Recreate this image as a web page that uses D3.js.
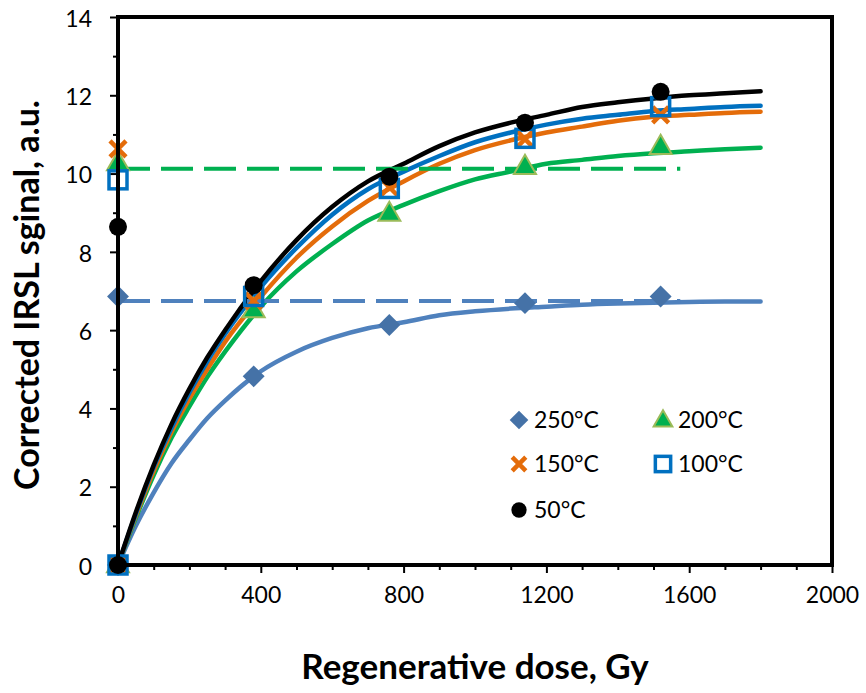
<!DOCTYPE html>
<html>
<head>
<meta charset="utf-8">
<script src="https://cdn.jsdelivr.net/npm/d3@7"></script>
<style>
  body { margin: 0; background: #fff; }
  svg { display: block; }
  text { font-family: Lato, "Open Sans", sans-serif; fill: #000; }
</style>
</head>
<body>
<svg id="chart" width="866" height="693"></svg>
<script>
// measured points (two points at dose 0: origin and natural signal)
const pointDose = [0, 0, 380, 760, 1140, 1520];
const pts250 = [0, 6.86, 4.82, 6.13, 6.69, 6.86];
const pts200 = [0, 10.27, 6.52, 8.98, 10.18, 10.69];
const pts150 = [0, 10.63, 6.75, 9.65, 10.88, 11.5];
const pts100 = [0, 9.84, 6.86, 9.62, 10.9, 11.71];
const pts50  = [0, 8.64, 7.15, 9.92, 11.3, 12.09];

// fitted growth curves
const curveDose = [0, 50, 100, 150, 200, 250, 300, 400, 500, 600, 700, 800, 900, 1000, 1100, 1200, 1300, 1400, 1500, 1600, 1700, 1800];
const fit250 = [0, 1.0, 1.85, 2.6, 3.2, 3.75, 4.2, 4.95, 5.45, 5.8, 6.05, 6.2, 6.38, 6.48, 6.55, 6.6, 6.65, 6.68, 6.7, 6.72, 6.73, 6.73];
const fit200 = [0, 1.2, 2.3, 3.25, 4.05, 4.8, 5.45, 6.6, 7.5, 8.2, 8.8, 9.2, 9.55, 9.85, 10.05, 10.25, 10.35, 10.45, 10.52, 10.57, 10.62, 10.66];
const fit150 = [0, 1.25, 2.4, 3.4, 4.25, 5.0, 5.7, 6.85, 7.85, 8.65, 9.3, 9.8, 10.25, 10.6, 10.85, 11.05, 11.2, 11.35, 11.45, 11.5, 11.55, 11.58];
const fit100 = [0, 1.3, 2.5, 3.5, 4.4, 5.2, 5.9, 7.1, 8.1, 8.95, 9.6, 10.05, 10.45, 10.8, 11.05, 11.25, 11.4, 11.5, 11.6, 11.65, 11.7, 11.73];
const fit50  = [0, 1.35, 2.55, 3.6, 4.5, 5.3, 6.0, 7.25, 8.3, 9.15, 9.8, 10.25, 10.7, 11.05, 11.3, 11.5, 11.7, 11.82, 11.92, 12.0, 12.05, 12.1];

// natural signal levels (dashed)
const natLevel250 = 6.745;
const natLevel200 = 10.12;
const natDoseRange = [0, 1575];

const xMajor = [0, 400, 800, 1200, 1600, 2000];
const xMinor = d3.range(100, 2000, 100).filter(d => d % 400 !== 0);
const yMajor = [0, 2, 4, 6, 8, 10, 12, 14];
const yMinor = [1, 3, 5, 7, 9, 11, 13];

const series = [
  { name: '250°C', pts: pts250, fit: fit250, line: '#4f81bd', marker: 'diamond' },
  { name: '200°C', pts: pts200, fit: fit200, line: '#00b050', marker: 'triangle' },
  { name: '150°C', pts: pts150, fit: fit150, line: '#e46c0a', marker: 'x' },
  { name: '100°C', pts: pts100, fit: fit100, line: '#0070c0', marker: 'square' },
  { name: '50°C',  pts: pts50,  fit: fit50,  line: '#000000', marker: 'circle' }
];

const svg = d3.select('#chart');
const plotL = 118, plotR = 832, plotT = 17, plotB = 565;

const x = d3.scaleLinear().domain([0, 2000]).range([plotL, plotR]);
const y = d3.scaleLinear().domain([0, 14]).range([plotB, plotT]);

// axes
const gx = svg.append('g').attr('transform', `translate(0,${plotB})`)
  .call(d3.axisBottom(x).tickValues(xMajor).tickFormat(d3.format('d'))
    .tickSize(8).tickSizeOuter(0).tickPadding(14));
const gxm = svg.append('g').attr('transform', `translate(0,${plotB})`)
  .call(d3.axisBottom(x).tickValues(xMinor).tickSize(5).tickSizeOuter(0).tickFormat(''));
const gy = svg.append('g').attr('transform', `translate(${plotL},0)`)
  .call(d3.axisLeft(y).tickValues(yMajor).tickFormat(d3.format('d'))
    .tickSize(8).tickSizeOuter(0).tickPadding(18));
const gym = svg.append('g').attr('transform', `translate(${plotL},0)`)
  .call(d3.axisLeft(y).tickValues(yMinor).tickSize(5).tickSizeOuter(0).tickFormat(''));

[gx, gxm, gy, gym].forEach(g => {
  g.select('.domain').remove();
  g.selectAll('line').attr('stroke', '#000').attr('stroke-width', 2);
  g.selectAll('text').style('font-size', '23px').style('font-family', 'Lato, sans-serif');
});
gx.selectAll('text').attr('dy', '0.71em');
gy.selectAll('text').attr('dy', '0.4em');

// curves
const line = d3.line().x(d => x(d[0])).y(d => y(d[1])).curve(d3.curveMonotoneX);
series.forEach(s => {
  svg.append('path')
    .datum(curveDose.map((d, i) => [d, s.fit[i]]))
    .attr('d', line)
    .attr('fill', 'none')
    .attr('stroke', s.line)
    .attr('stroke-width', 4.5)
    .attr('stroke-linecap', 'round');
});

// dashed natural levels
[[natLevel250, '#4f81bd'], [natLevel200, '#00b050']].forEach(([lvl, col]) => {
  svg.append('line')
    .attr('x1', x(natDoseRange[0])).attr('x2', x(natDoseRange[1]))
    .attr('y1', y(lvl)).attr('y2', y(lvl))
    .attr('stroke', col).attr('stroke-width', 4)
    .attr('stroke-dasharray', '32,11');
});

// markers
function drawMarker(g, type, cx, cy, scale) {
  const k = scale || 1;
  if (type === 'diamond') {
    g.append('path').attr('d', d3.symbol(d3.symbolSquare, 240 * k * k)())
      .attr('transform', `translate(${cx},${cy}) rotate(45)`)
      .attr('fill', '#4572a7');
  } else if (type === 'triangle') {
    g.append('path').attr('d', d3.symbol(d3.symbolTriangle, 210 * k * k)())
      .attr('transform', `translate(${cx},${cy + 1})`)
      .attr('fill', '#00b050').attr('stroke', '#9bbb59').attr('stroke-width', 2);
  } else if (type === 'x') {
    const r = 8 * k;
    g.append('path')
      .attr('d', `M${cx - r},${cy - r}L${cx + r},${cy + r}M${cx - r},${cy + r}L${cx + r},${cy - r}`)
      .attr('stroke', '#e46c0a').attr('stroke-width', 4.5).attr('fill', 'none');
  } else if (type === 'square') {
    const h = 9 * k;
    g.append('rect').attr('x', cx - h).attr('y', cy - h).attr('width', 2 * h).attr('height', 2 * h)
      .attr('fill', 'none').attr('stroke', '#0070c0').attr('stroke-width', 3.5);
  } else if (type === 'circle') {
    g.append('circle').attr('cx', cx).attr('cy', cy).attr('r', 9 * k).attr('fill', '#000');
  }
}

const gm = svg.append('g');
series.forEach(s => {
  pointDose.forEach((d, i) => drawMarker(gm, s.marker, x(d), y(s.pts[i])));
});

// frame
svg.append('rect')
  .attr('x', plotL).attr('y', plotT)
  .attr('width', plotR - plotL).attr('height', plotB - plotT)
  .attr('fill', 'none').attr('stroke', '#000').attr('stroke-width', 4);

// legend
const legendPos = [[519, 420], [663, 420], [519, 464], [663, 464], [519, 510]];
const gl = svg.append('g');
series.forEach((s, i) => {
  const [lx, ly] = legendPos[i];
  drawMarker(gl, s.marker, lx, ly, 0.85);
  gl.append('text').attr('x', lx + 15).attr('y', ly).attr('dy', '0.36em')
    .style('font-size', '23px').text(s.name);
});

// axis titles
svg.append('text')
  .attr('x', (plotL + plotR) / 2).attr('y', 679)
  .attr('text-anchor', 'middle')
  .style('font-size', '35px').style('font-weight', 'bold')
  .text('Regenerative dose, Gy');

svg.append('text')
  .attr('transform', 'translate(39,295) rotate(-90)')
  .attr('text-anchor', 'middle')
  .style('font-size', '34px').style('font-weight', 'bold')
  .text('Corrected IRSL sginal, a.u.');
</script>
</body>
</html>
